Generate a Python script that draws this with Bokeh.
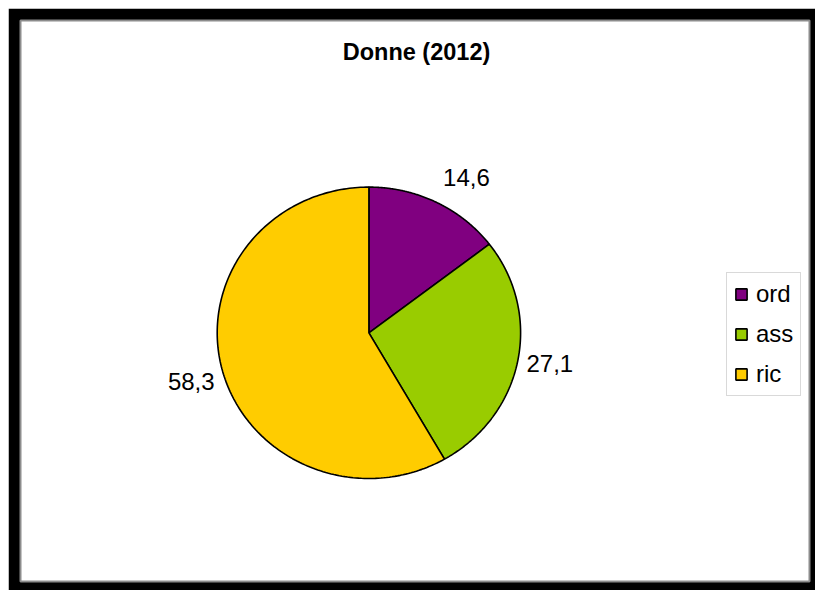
import numpy as np
from bokeh.plotting import figure
from bokeh.models import ColumnDataSource, Range1d, Legend, LegendItem, Spacer
from bokeh.layouts import column, row
from bokeh.core.properties import value
from bokeh.embed import file_html
from bokeh.resources import INLINE

# ---- data ----
title_text = "Donne (2012)"
categories = ["ord", "ass", "ric"]
values = [14.6, 27.1, 58.3]
value_labels = ["14,6", "27,1", "58,3"]
colors = ["#800080", "#99cc00", "#ffcc00"]

# ---- layout / style ----
OFF = 8                     # page offset of the figure
W, H = 807, 582
BL, BT, BR, BB = 12, 12, 6, 9
CX, CY = 368.4, 332.3       # page position of pie centre
RX, RY = 151.7, 145.7       # pie radii in pixels
FONT = "Liberation Sans"
label_nudge_x = [3, 0, 1]   # small screen-pixel nudges of the value labels
label_nudge_y = [-8, 0, 9]

fl, ft = OFF + BL, OFF + BT
fr, fb = OFF + W - BR, OFF + H - BB

p = figure(width=W, height=H, output_backend="svg", toolbar_location=None,
           x_range=Range1d(fl - CX, fr - CX), y_range=Range1d(CY - fb, CY - ft),
           x_axis_type=None, y_axis_type=None,
           min_border_left=BL, min_border_top=BT, min_border_right=BR, min_border_bottom=BB)
p.grid.visible = False
p.border_fill_color = "black"
p.background_fill_color = "white"
p.outline_line_color = "#8c8c8c"
p.outline_line_width = 2

vals = np.array(values, dtype=float)
fr_end = np.cumsum(vals) / vals.sum()
fr_start = np.concatenate([[0.0], fr_end[:-1]])

xs, ys = [], []
for a0, a1 in zip(fr_start, fr_end):
    t = np.linspace(a0, a1, 200) * 2 * np.pi
    xs.append(np.concatenate([[0.0], RX * np.sin(t), [0.0]]).tolist())
    ys.append(np.concatenate([[0.0], RY * np.cos(t), [0.0]]).tolist())

src = ColumnDataSource(dict(xs=xs, ys=ys, color=colors, cat=categories))
r = p.patches("xs", "ys", source=src, fill_color="color", line_color="black",
              line_width=1.6)

# value labels
mid = (fr_start + fr_end) / 2 * 2 * np.pi
s, c = np.sin(mid), np.cos(mid)
gap = 9
lx = (RX + gap) * s
ly = (RY + gap) * c
align = ["left" if v > 0.1 else ("right" if v < -0.1 else "center") for v in s]
base = ["bottom" if v > 0.7 else ("top" if v < -0.7 else "middle") for v in c]
lsrc = ColumnDataSource(dict(x=lx, y=ly, t=value_labels, a=align, b=base,
                             dx=label_nudge_x, dy=label_nudge_y))
p.text("x", "y", text="t", source=lsrc, text_align="a", text_baseline="b",
       x_offset="dx", y_offset="dy",
       text_font=value(FONT), text_font_size="24px", text_color="black")

# title
p.text(x=[416 - CX], y=[CY - 51], text=[title_text], text_align="center",
       text_baseline="middle", text_font=value(FONT), text_font_size="23.5px",
       text_font_style="bold", text_color="black")

# legend
items = [LegendItem(label=cat, renderers=[r], index=i) for i, cat in enumerate(categories)]
legend = Legend(items=items, location=(726 - fl, fb - 396),
                glyph_width=14, glyph_height=14, label_height=26,
                label_text_font=FONT, label_text_font_size="24px",
                label_text_color="black",
                label_standoff=8, spacing=12, padding=7, margin=0,
                border_line_color="#b3b3b3", border_line_width=1,
                background_fill_color="white", background_fill_alpha=1.0)
p.add_layout(legend, "center")

page = column(Spacer(height=OFF, width=W + OFF), row(Spacer(width=OFF, height=H), p))
open("out.html", "w").write(file_html(page, INLINE))
